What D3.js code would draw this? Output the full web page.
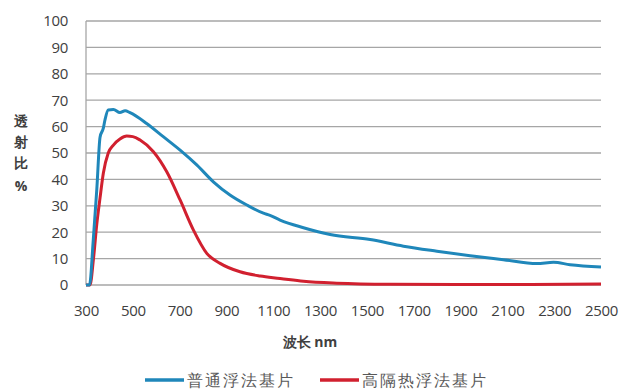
<!DOCTYPE html>
<html><head><meta charset="utf-8">
<script src="https://cdn.jsdelivr.net/npm/d3@7"></script>
<style>
body{margin:0;background:#fff;}
svg{display:block;}
text{font-family:"Open Sans","Liberation Sans",sans-serif;}
</style></head>
<body>
<svg id="c" width="620" height="392"></svg>
<script>
const xTicks = [300,500,700,900,1100,1300,1500,1700,1900,2100,2300,2500];
const yTicks = [0,10,20,30,40,50,60,70,80,90,100];
const seriesNames = ["普通浮法基片","高隔热浮法基片"];
const blueWl = [300,315,331,346,360,374,381,395,417,445,467,488,559,630,702,773,844,915,987,1058,1086,1129,1229,1343,1514,1656,1799,1941,2083,2226,2297,2368,2500];
const blueT  = [0,0,17,36,56,59.4,62.5,66.3,66.5,65.3,66,65.3,61.2,56.2,51.1,45.5,39.1,34.1,30.3,27.2,26.4,24.6,21.7,19.1,17.2,14.7,12.8,11.1,9.6,8.1,8.6,7.7,6.8];
const redWl = [300,317,332,346,360,374,395,417,445,474,500,531,588,645,702,759,816,873,958,1044,1129,1229,1371,1600,1900,2200,2500];
const redT  = [0,0,10,23,33,42.3,50,53,55.3,56.4,56.2,54.9,50.5,42.9,32.2,20.8,12,8.2,5,3.4,2.5,1.4,0.7,0.3,0.2,0.2,0.4];
const colors = ["#1f87ba","#d1202f"];

const svg = d3.select("#c");
const m = {l:86, r:601, t:21, b:285};
const x = d3.scaleLinear().domain([300,2500]).range([m.l,m.r]);
const y = d3.scaleLinear().domain([0,100]).range([m.b,m.t]);

// gridlines
svg.append("g").selectAll("line").data(yTicks).join("line")
  .attr("x1",m.l).attr("x2",m.r).attr("y1",d=>y(d)).attr("y2",d=>y(d))
  .attr("stroke","#a6a6a6").attr("stroke-width",1.3);
// left axis line
svg.append("line").attr("x1",m.l).attr("x2",m.l).attr("y1",m.t).attr("y2",m.b)
  .attr("stroke","#a6a6a6").attr("stroke-width",1.3);

const yAxis = d3.axisLeft(y).tickValues(yTicks).tickSize(0).tickPadding(18);
const gy = svg.append("g").attr("transform",`translate(${m.l},0)`).call(yAxis);
gy.select(".domain").remove();
gy.selectAll("text").attr("font-size",15).attr("fill","#404040").attr("letter-spacing","-0.3")
  .attr("font-family","'Open Sans','Liberation Sans',sans-serif");

const xAxis = d3.axisBottom(x).tickValues(xTicks).tickSize(0).tickPadding(20).tickFormat(d3.format("d"));
const gx = svg.append("g").attr("transform",`translate(0,${m.b})`).call(xAxis);
gx.select(".domain").remove();
gx.selectAll("text").attr("font-size",15).attr("fill","#404040").attr("letter-spacing","-0.3")
  .attr("font-family","'Open Sans','Liberation Sans',sans-serif");

// y label stacked
const yl = ["透","射","比","%"];
svg.append("g").selectAll("text").data(yl).join("text")
  .attr("x",21).attr("y",(d,i)=>[126,147,168,191][i])
  .attr("text-anchor","middle").attr("font-size",14).attr("font-weight","bold").attr("fill","#404040")
  .attr("font-family","'Noto Sans CJK SC',sans-serif")
  .text(d=>d);

// x label
svg.append("text").attr("x",310).attr("y",347).attr("text-anchor","middle")
  .attr("font-size",14).attr("font-weight","bold").attr("fill","#404040")
  .attr("font-family","'Noto Sans CJK SC',sans-serif").text("波长 nm");

const line = d3.line().x(d=>x(d[0])).y(d=>y(d[1])).curve(d3.curveMonotoneX);
const series = [d3.zip(blueWl,blueT), d3.zip(redWl,redT)];
svg.append("path").datum(series[1]).attr("d",line).attr("fill","none")
  .attr("stroke",colors[1]).attr("stroke-width",3).attr("stroke-linejoin","round");
svg.append("path").datum(series[0]).attr("d",line).attr("fill","none")
  .attr("stroke",colors[0]).attr("stroke-width",3).attr("stroke-linejoin","round");

// legend
const lg = svg.append("g");
const legX = [145,320];
seriesNames.forEach((n,i)=>{
  lg.append("line").attr("x1",legX[i]).attr("x2",legX[i]+39).attr("y1",380).attr("y2",380)
    .attr("stroke",colors[i]).attr("stroke-width",3.5);
  lg.append("text").attr("x",legX[i]+42).attr("y",386).attr("font-size",15.5).attr("letter-spacing","2")
    .attr("fill","#595959")
    .attr("font-family","'Noto Sans CJK SC',sans-serif").text(n);
});
</script>
</body></html>
